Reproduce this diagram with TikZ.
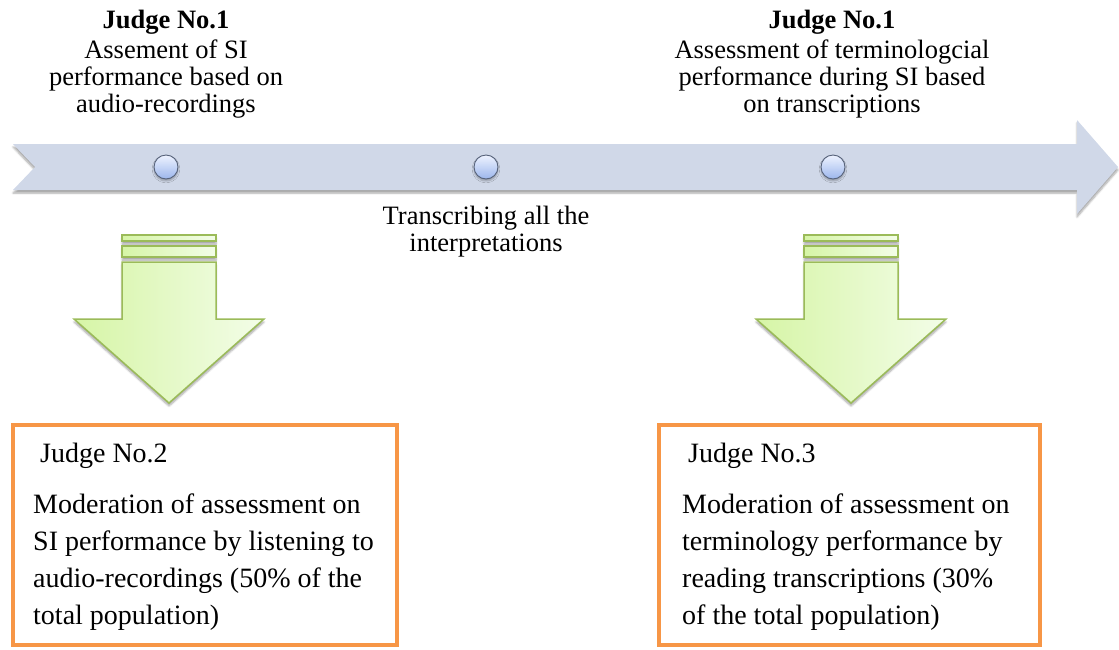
\documentclass[tikz,border=0pt]{standalone}
\usepackage{fontspec}
\setmainfont{Liberation Serif}
\usetikzlibrary{shadows.blur}
\definecolor{band}{HTML}{D0D8E8}
\definecolor{dotedge}{HTML}{56627A}
\definecolor{dottop}{HTML}{EEF3FF}
\definecolor{dotbot}{HTML}{9CB6EC}
\definecolor{grnedge}{HTML}{9BBB59}
\definecolor{grnleft}{HTML}{D6F5A6}
\definecolor{grnright}{HTML}{F3FDE8}
\definecolor{boxorange}{HTML}{F79646}
\tikzset{
  toptext/.style={font=\fontsize{26.5}{27}\selectfont, align=center, inner sep=0pt, anchor=base},
  boxtext/.style={font=\fontsize{28}{37}\selectfont, align=left, inner sep=0pt, anchor=base west},
  dot/.style={circle, minimum size=24pt, inner sep=0pt, draw=dotedge, line width=0.9pt,
    top color=dottop, bottom color=dotbot,
    blur shadow={shadow xshift=0pt, shadow yshift=-2pt, shadow opacity=30, shadow blur steps=5}},
  downarrow/.style={draw=grnedge, line width=1.5pt, left color=grnleft, right color=grnright,
    blur shadow={shadow xshift=0pt, shadow yshift=-3pt, shadow opacity=35, shadow blur steps=6}},
  resultbox/.style={rectangle, draw=boxorange, line width=4pt, fill=white,
    minimum width=384pt, minimum height=220pt, inner sep=0pt}
}
\begin{document}
\begin{tikzpicture}[x=1pt,y=-1pt]
\useasboundingbox (0,0) rectangle (1119,649);
% timeline band
\fill[band, blur shadow={shadow xshift=0pt, shadow yshift=-3pt, shadow opacity=35, shadow blur steps=6}]
  (13,144) -- (1077,144) -- (1077,120) -- (1118,167) -- (1077,214) -- (1077,190)
  -- (13,190) -- (35,167) -- cycle;
% dots
\node[dot] (d1) at (166,167) {};
\node[dot] (d2) at (486,167) {};
\node[dot] (d3) at (833,167) {};
% green arrows
\foreach \cx in {169,851}{
  \path[downarrow] (\cx-47,235) rectangle (\cx+47,241);
  \path[downarrow] (\cx-47,246) rectangle (\cx+47,257);
  \path[downarrow] (\cx-47,262) -- (\cx+47,262) -- (\cx+47,319) -- (\cx+95,319)
    -- (\cx,403) -- (\cx-95,319) -- (\cx-47,319) -- cycle;
}
% top texts (multi-line nodes: base = baseline of last line)
\node[toptext, font=\fontsize{26.5}{27}\selectfont\bfseries] (j1a) at (166,28) {Judge No.1};
\node[toptext] (t1) at (166,112) {Assement of SI\\performance based on\\audio-recordings};
\node[toptext, font=\fontsize{26.5}{27}\selectfont\bfseries] (j1b) at (832,28) {Judge No.1};
\node[toptext] (t3) at (832,112) {Assessment of terminologcial\\performance during SI based\\on transcriptions};
\node[toptext] (t2) at (486,251) {Transcribing all the\\interpretations};
% boxes
\node[resultbox] (b1) at (205,535) {};
\node[resultbox, minimum width=381pt] (b2) at (849.5,535) {};
\node[boxtext] (b1h) at (40,462) {Judge No.2};
\node[boxtext] (b1t) at (33,624) {Moderation of assessment on\\SI performance by listening to\\audio-recordings (50\% of the\\total population)};
\node[boxtext] (b2h) at (688,462) {Judge No.3};
\node[boxtext] (b2t) at (682,624) {Moderation of assessment on\\terminology performance by\\reading transcriptions (30\%\\of the total population)};
\end{tikzpicture}
\end{document}
